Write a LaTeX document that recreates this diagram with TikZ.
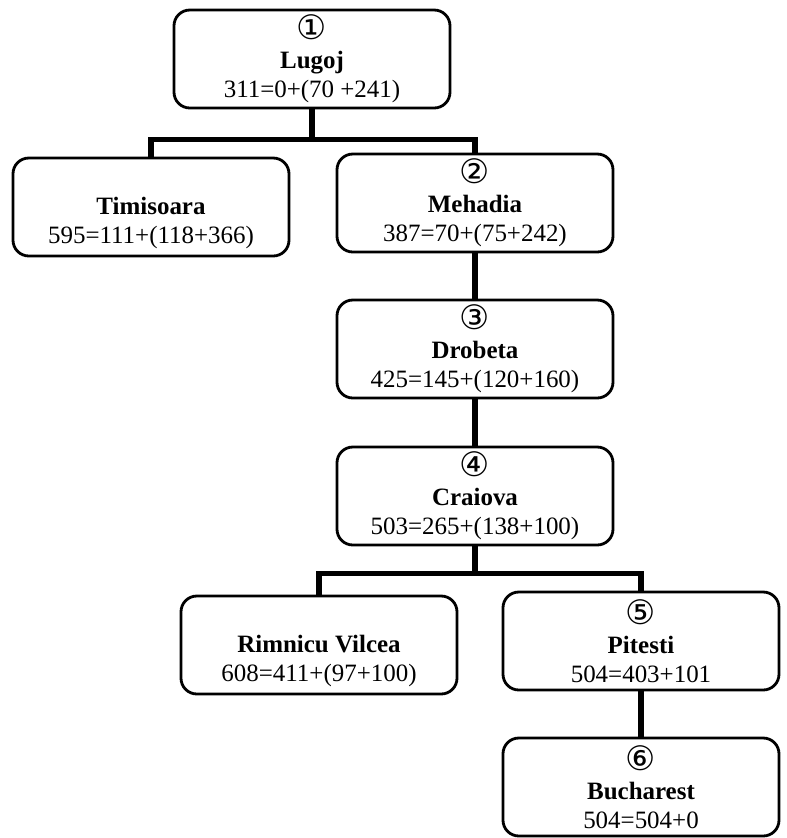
\documentclass[tikz,border=0pt]{standalone}
\usepackage{fontspec}
\setmainfont{Liberation Serif}
\newfontfamily\circfont[Scale=1.35]{DejaVu Sans}
\usetikzlibrary{calc}
\tikzset{
  citybox/.style={draw=black, line width=1.6pt, rounded corners=9pt, align=center, minimum width=5.52cm, minimum height=1.96cm, inner sep=2pt, font=\fontsize{14.2}{16.5}\selectfont},
  link/.style={line width=3pt}
}
\newcommand{\stepno}[1]{{\circfont #1}}

\begin{document}
\begin{tikzpicture}
\useasboundingbox (0,0) rectangle (15.72,-16.76);
\node[citybox] (lugoj) at (6.24,-1.18) {\stepno{①}\\\textbf{Lugoj}\\311=0+(70 +241)};
\node[citybox] (timisoara) at (3.02,-4.14) {\strut\\\textbf{Timisoara}\\595=111+(118+366)};
\node[citybox] (mehadia) at (9.5,-4.06) {\stepno{②}\\\textbf{Mehadia}\\387=70+(75+242)};
\node[citybox] (drobeta) at (9.5,-6.98) {\stepno{③}\\\textbf{Drobeta}\\425=145+(120+160)};
\node[citybox] (craiova) at (9.5,-9.92) {\stepno{④}\\\textbf{Craiova}\\503=265+(138+100)};
\node[citybox] (rimnicu) at (6.38,-12.9) {\strut\\\textbf{Rimnicu Vilcea}\\608=411+(97+100)};
\node[citybox] (pitesti) at (12.82,-12.82) {\stepno{⑤}\\\textbf{Pitesti}\\504=403+101};
\node[citybox] (bucharest) at (12.82,-15.74) {\stepno{⑥}\\\textbf{Bucharest}\\504=504+0};
% tree links
\draw[link] (lugoj.south) -- ++(0,-0.6) coordinate (fork1);
\draw[link] (fork1) -| (timisoara.north);
\draw[link] (fork1) -| (mehadia.north);
\draw[link] (mehadia) -- (drobeta);
\draw[link] (drobeta) -- (craiova);
\draw[link] (craiova.south) -- ++(0,-0.54) coordinate (fork2);
\draw[link] (fork2) -| (rimnicu.north);
\draw[link] (fork2) -| (pitesti.north);
\draw[link] (pitesti) -- (bucharest);
\end{tikzpicture}
\end{document}
